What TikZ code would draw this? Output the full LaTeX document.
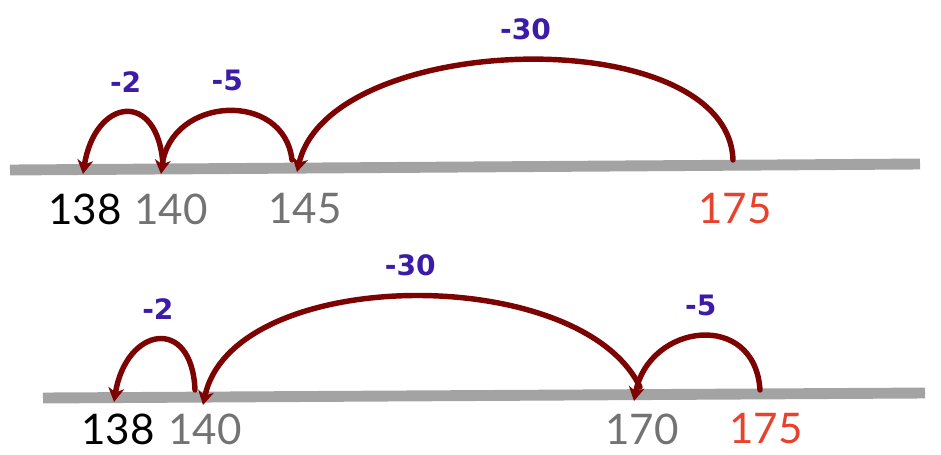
\documentclass[tikz,border=0pt]{standalone}
\usepackage{fontspec}
\setmainfont{Lato}
\newfontfamily\lblfont{DejaVu Sans}
\usetikzlibrary{arrows.meta}
\definecolor{linegray}{HTML}{A3A3A3}
\definecolor{numgray}{HTML}{737373}
\definecolor{numred}{HTML}{E8412C}
\definecolor{jumpred}{HTML}{7D0303}
\definecolor{lblpurple}{HTML}{3C1BA8}
\begin{document}
\begin{tikzpicture}[x=0.02cm, y=-0.02cm]
		\tikzset{
			numline/.style={line width=6.2pt, draw=linegray},
			num/.style={font=\fontsize{24}{24}\selectfont, inner sep=0pt},
			jump/.style={line width=3.1pt, draw=jumpred, line cap=round, -{Stealth[length=8pt, width=9pt, inset=2.5pt]}},
			lbl/.style={font=\lblfont\bfseries\fontsize{16}{16}\selectfont, text=lblpurple, inner sep=0pt, above=10pt},
		}
		\useasboundingbox (0,0) rectangle (941,454);
		
		% top number line: 175 -> 145 -> 140 -> 138
		\coordinate (topL) at (10,170);
		\coordinate (topR) at (920,164);
		\draw[numline] (topL) -- (topR);
		
		\coordinate (t138) at (83,174);
		\coordinate (t140) at (161,174);
		\coordinate (s140) at (163,165);
		\coordinate (t145) at (297,172);
		\coordinate (s145) at (292,160);
		\coordinate (s175) at (733,160);
		
		\node[num] (n138) at (85,209) {138};
		\node[num, text=numgray] (n140) at (171,209) {140};
		\node[num, text=numgray] (n145) at (305,209) {145};
		\node[num, text=numred] (n175) at (735,209) {175};
		
		\draw[jump] (s175) .. controls +(-5,-140) and +(33,-142) .. node[lbl, midway] (j30) {-30} (t145);
		\draw[jump] (s145) .. controls +(-8,-70) and +(10,-78) .. node[lbl, midway] (j5) {-5} (t140);
		\draw[jump] (s140) .. controls +(-5,-76) and +(12,-76) .. node[lbl, midway] (j2) {-2} (t138);
		
		% bottom number line: 175 -> 170 -> 140 -> 138
		\coordinate (botL) at (43,398);
		\coordinate (botR) at (925,393);
		\draw[numline] (botL) -- (botR);
		
		\coordinate (b138) at (114,402);
		\coordinate (b140) at (203,405);
		\coordinate (c140) at (195,390);
		\coordinate (b170) at (634,401);
		\coordinate (c170) at (640,387);
		\coordinate (c175) at (760,390);
		
		\node[num] (m138) at (118,429) {138};
		\node[num, text=numgray] (m140) at (205,429) {140};
		\node[num, text=numgray] (m170) at (642,429) {170};
		\node[num, text=numred] (m175) at (766,429) {175};
		
		\draw[jump] (c175) .. controls +(-5,-80) and +(15,-78) .. node[lbl, midway] (k5) {-5} (b170);
		\draw[jump] (c170) .. controls +(-60,-125) and +(30,-140) .. node[lbl, midway] (k30) {-30} (b140);
		\draw[jump] (c140) .. controls +(-3,-75) and +(12,-75) .. node[lbl, midway] (k2) {-2} (b138);
	\end{tikzpicture}
\end{document}
